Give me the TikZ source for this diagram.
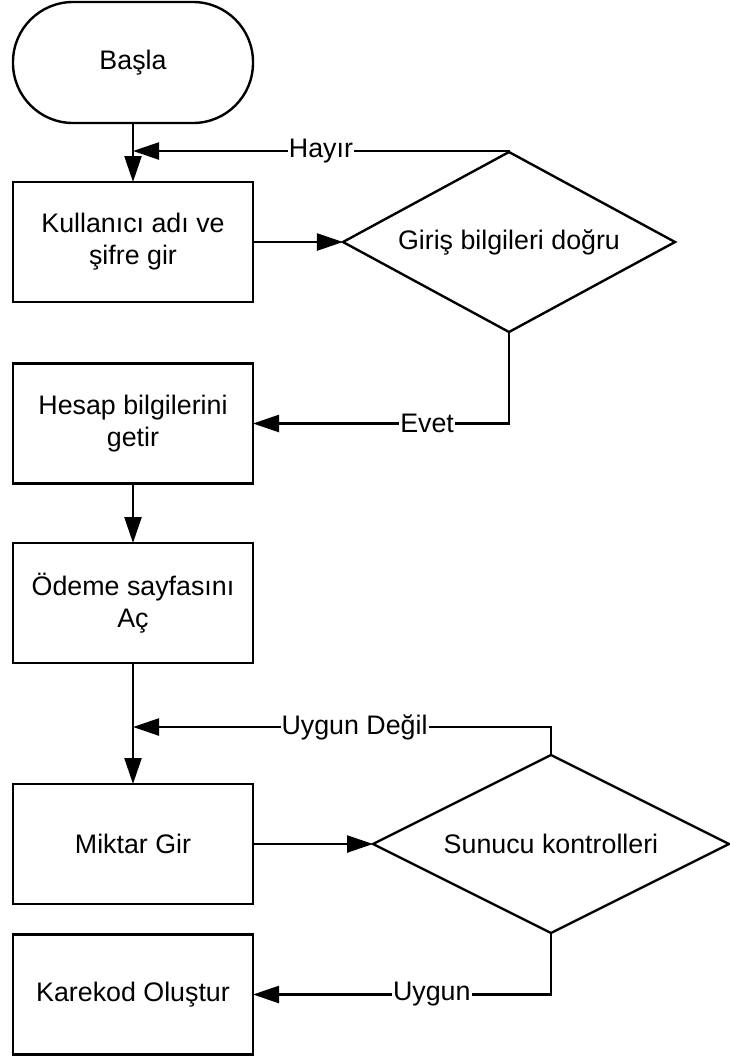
\documentclass[tikz,border=0pt]{standalone}
\usepackage{fontspec}
\setmainfont{Liberation Sans}
\usetikzlibrary{shapes.geometric,arrows.meta}
\begin{document}
\begin{tikzpicture}[x=1pt,y=-1pt,
  font=\fontsize{26.8}{32}\selectfont,
  every node/.style={outer sep=0pt},
  procbox/.style={draw, line width=2.4pt, minimum width=240pt, minimum height=120pt, align=center, inner sep=0pt},
  termbox/.style={draw, line width=2.4pt, rounded corners=60pt, minimum width=240pt, minimum height=121pt, inner sep=0pt},
  decision/.style={draw, diamond, line width=2.4pt, inner sep=0pt, align=center},
  flow/.style={line width=2.4pt, -{Triangle[length=26pt,width=17pt]}},
  lbl/.style={fill=white, inner sep=1pt}]
\useasboundingbox (0,0) rectangle (729,1061);

% process steps
\node[termbox] (start) at (133,62.5) {Başla};
\node[procbox] (login) at (133,242) {Kullanıcı adı ve\\şifre gir};
\node[procbox] (account) at (133,423.5) {Hesap bilgilerini\\getir};
\node[procbox] (payment) at (133,603) {Ödeme sayfasını\\Aç};
\node[procbox] (amount) at (133,844) {Miktar Gir};
\node[procbox] (qr) at (133,994.5) {Karekod Oluştur};

% decisions
\node[decision, shape aspect=1.84, minimum width=332pt, minimum height=180pt] (check) at (509,242) {Giriş bilgileri doğru};
\node[decision, shape aspect=2, minimum width=356pt, minimum height=178pt] (server) at (551,844) {Sunucu kontrolleri};

% return points on the main line
\coordinate (retA) at (133,151);
\coordinate (retB) at (133,727);

% connectors
\draw[flow] (start) -- (login);
\draw[flow] (login) -- (check);
\draw[flow] (check.north) |- node[lbl, pos=0.75] {Hayır} (retA);
\draw[flow] (check.south) |- node[lbl, pos=0.66] {Evet} (account.east);
\draw[flow] (account) -- (payment);
\draw[flow] (payment) -- (amount);
\draw[flow] (server.north) |- node[lbl, pos=0.735] {Uygun Değil} (retB);
\draw[flow] (amount) -- (server);
\draw[flow] (server.south) |- node[lbl, pos=0.70] {Uygun} (qr.east);
\end{tikzpicture}
\end{document}
